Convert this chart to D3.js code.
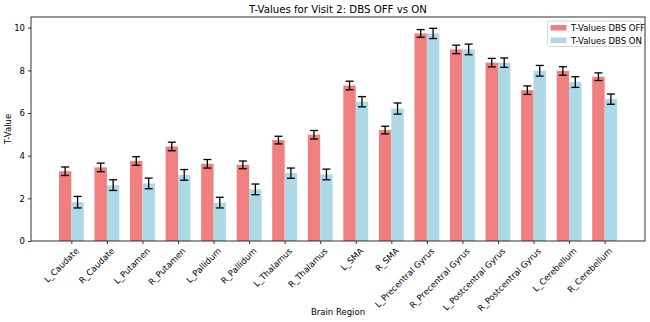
<!DOCTYPE html>
<html><head><meta charset="utf-8">
<script src="https://cdn.jsdelivr.net/npm/d3@7"></script>
<style>body{margin:0;background:#fff;} text{font-family:"DejaVu Sans",sans-serif;}</style>
</head><body><svg id="c" width="650" height="322"></svg>
<script>
const regions = ["L_Caudate","R_Caudate","L_Putamen","R_Putamen","L_Pallidum","R_Pallidum","L_Thalamus","R_Thalamus","L_SMA","R_SMA","L_Precentral Gyrus","R_Precentral Gyrus","L_Postcentral Gyrus","R_Postcentral Gyrus","L_Cerebellum","R_Cerebellum"];
const offValues = [3.27,3.45,3.75,4.43,3.62,3.57,4.73,4.98,7.29,5.2,9.73,8.98,8.36,7.07,7.97,7.7];
const offErrors = [0.2,0.2,0.2,0.2,0.2,0.18,0.18,0.2,0.2,0.18,0.18,0.2,0.2,0.2,0.2,0.18];
const onValues = [1.82,2.62,2.7,3.1,1.8,2.42,3.18,3.12,6.53,6.21,9.73,8.98,8.36,7.98,7.45,6.65];
const onErrors = [0.27,0.25,0.25,0.25,0.25,0.25,0.24,0.25,0.24,0.26,0.24,0.25,0.22,0.25,0.25,0.24];
const yTicks = [0,2,4,6,8,10];
const seriesNames = ["T-Values DBS OFF","T-Values DBS ON"];
const colors = ["#f08080","#add8e6"];

const svg = d3.select("#c");
const L=31, R=645, T=17, B=241;
const w = 0.35;
const pad = (15 + 2*w) * 0.05;
const x = d3.scaleLinear().domain([-w - pad, 15 + w + pad]).range([L,R]);
const y = d3.scaleLinear().domain([0,10.5]).range([B,T]);
const fs = 8.5;

svg.append("rect").attr("width",650).attr("height",322).attr("fill","#fff");

const series = [
  {vals:offValues, errs:offErrors, off:-w, color:colors[0]},
  {vals:onValues, errs:onErrors, off:0, color:colors[1]}
];
series.forEach(s=>{
  const g = svg.append("g");
  g.selectAll("rect").data(s.vals).join("rect")
    .attr("x",(d,i)=>x(i+s.off)).attr("width",(d,i)=>x(i+s.off+w)-x(i+s.off))
    .attr("y",d=>y(d)).attr("height",d=>y(0)-y(d)).attr("fill",s.color);
});
series.forEach(s=>{
  const g = svg.append("g").attr("stroke","#000").attr("stroke-width",1.3);
  s.vals.forEach((d,i)=>{
    const cx = x(i+s.off+w/2), e=s.errs[i];
    g.append("line").attr("x1",cx).attr("x2",cx).attr("y1",y(d-e)).attr("y2",y(d+e));
    g.append("line").attr("x1",cx-4).attr("x2",cx+4).attr("y1",y(d-e)).attr("y2",y(d-e));
    g.append("line").attr("x1",cx-4).attr("x2",cx+4).attr("y1",y(d+e)).attr("y2",y(d+e));
  });
});

// axes
const xAxis = d3.axisBottom(x).tickValues(d3.range(regions.length)).tickFormat(i=>regions[i]).tickSize(3).tickPadding(3);
const gx = svg.append("g").attr("transform",`translate(0,${B})`).call(xAxis);
gx.select(".domain").remove();
gx.selectAll(".tick line").attr("stroke","#000").attr("stroke-width",0.8);
gx.selectAll(".tick text").attr("font-size",fs).attr("fill","#000")
  .attr("text-anchor","end").attr("y",0).attr("x",0).attr("dy","0.75em")
  .attr("transform","translate(3,6) rotate(-45)");
const gy = svg.append("g").attr("transform",`translate(${L},0)`).call(d3.axisLeft(y).tickValues(yTicks).tickSize(3).tickPadding(3));
gy.select(".domain").remove();
gy.selectAll(".tick line").attr("stroke","#000").attr("stroke-width",0.8);
gy.selectAll("text").attr("font-size",fs).attr("fill","#000");
svg.append("rect").attr("x",L).attr("y",T).attr("width",R-L).attr("height",B-T).attr("fill","none").attr("stroke","#000").attr("stroke-width",0.8);

svg.append("text").attr("x",(L+R)/2).attr("y",13).attr("text-anchor","middle").attr("font-size",10.2).text("T-Values for Visit 2: DBS OFF vs ON");
svg.append("text").attr("x",(L+R)/2).attr("y",315).attr("text-anchor","middle").attr("font-size",fs).text("Brain Region");
svg.append("text").attr("transform",`translate(11,${(T+B)/2}) rotate(-90)`).attr("text-anchor","middle").attr("font-size",fs).text("T-Value");

// legend
const lg = svg.append("g");
lg.append("rect").attr("x",547.5).attr("y",21).attr("width",93.5).attr("height",25.5).attr("rx",2).attr("fill","#fff").attr("fill-opacity",0.8).attr("stroke","#ccc").attr("stroke-width",0.8);
seriesNames.forEach((n,i)=>{
  lg.append("rect").attr("x",550.5).attr("y",25+i*12.5).attr("width",16).attr("height",5.5).attr("fill",colors[i]);
  lg.append("text").attr("x",571).attr("y",31+i*12.5).attr("font-size",fs).attr("fill","#000").text(n);
});
</script></body></html>
